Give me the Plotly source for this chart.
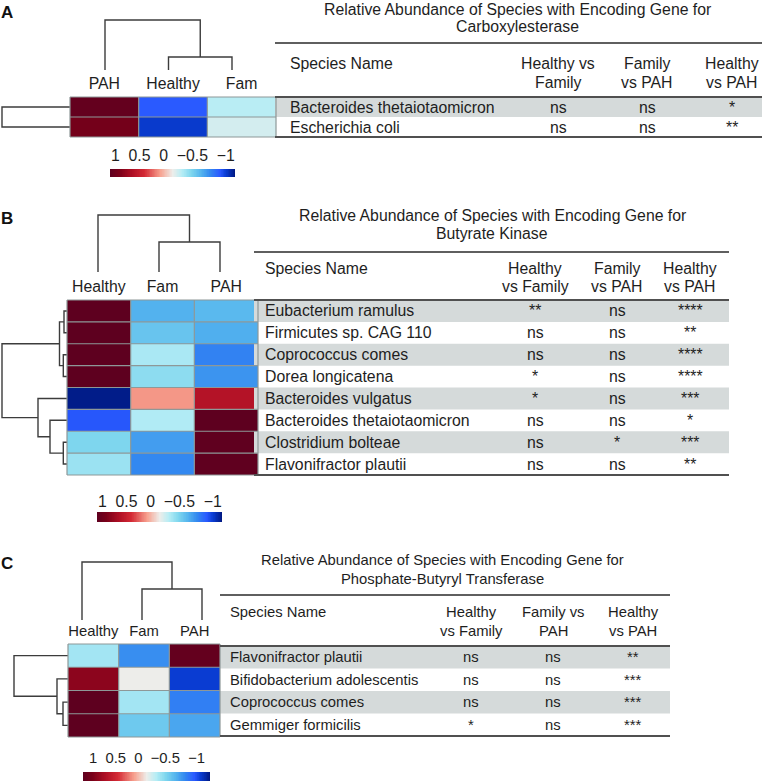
import numpy as np
import plotly.graph_objects as go

W, H = 766, 782
FONT = "Liberation Sans, Arial, Helvetica, sans-serif"
TXT = "#1e1e1e"

# ------------------------------------------------------------------ data
# Panel A : Carboxylesterase
A_cols = ["PAH", "Healthy", "Fam"]
A_species = ["Bacteroides thetaiotaomicron", "Escherichia coli"]
A_z = [[0.97, -0.75, -0.14],
       [0.88, -0.86, -0.07]]
A_hvf = ["ns", "ns"]
A_fvp = ["ns", "ns"]
A_hvp = ["*", "**"]
A_headers = ["Healthy vs<br>Family", "Family<br>vs PAH", "Healthy<br>vs PAH"]
A_title = "Relative Abundance of Species with Encoding Gene for<br>Carboxylesterase"
A_col_link = [(1, 2, 13), (0, 3, 50)]
A_row_link = [(0, 1, 68)]

# Panel B : Butyrate Kinase
B_cols = ["Healthy", "Fam", "PAH"]
B_species = ["Eubacterium ramulus", "Firmicutes sp. CAG 110", "Coprococcus comes",
             "Dorea longicatena", "Bacteroides vulgatus", "Bacteroides thetaiotaomicron",
             "Clostridium bolteae", "Flavonifractor plautii"]
B_z = [[1.00, -0.46, -0.43],
       [1.00, -0.38, -0.47],
       [1.00, -0.18, -0.62],
       [1.00, -0.26, -0.56],
       [-0.98, 0.22, 0.62],
       [-0.76, -0.16, 1.00],
       [-0.30, -0.53, 0.99],
       [-0.22, -0.60, 0.99]]
B_hvf = ["**", "ns", "ns", "*", "*", "ns", "ns", "ns"]
B_fvp = ["ns", "ns", "ns", "ns", "ns", "ns", "*", "ns"]
B_hvp = ["****", "**", "****", "****", "***", "*", "***", "**"]
B_headers = ["Healthy<br>vs Family", "Family<br>vs PAH", "Healthy<br>vs PAH"]
B_title = "Relative Abundance of Species with Encoding Gene for<br>Butyrate Kinase"
B_col_link = [(1, 2, 30), (0, 3, 57)]
B_row_link = [(0, 1, 3), (2, 3, 3.7), (8, 9, 7.5), (6, 7, 3.7),
              (5, 11, 17), (4, 12, 29), (10, 13, 65)]

# Panel C : Phosphate-Butyryl Transferase
C_cols = ["Healthy", "Fam", "PAH"]
C_species = ["Flavonifractor plautii", "Bifidobacterium adolescentis",
             "Coprococcus comes", "Gemmiger formicilis"]
C_z = [[-0.20, -0.58, 0.97],
       [0.78, 0.00, -0.85],
       [1.00, -0.20, -0.63],
       [1.00, -0.36, -0.50]]
C_hvf = ["ns", "ns", "ns", "*"]
C_fvp = ["ns", "ns", "ns", "ns"]
C_hvp = ["**", "***", "***", "***"]
C_headers = ["Healthy<br>vs Family", "Family vs<br>PAH", "Healthy<br>vs PAH"]
C_title = "Relative Abundance of Species with Encoding Gene for<br>Phosphate-Butyryl Transferase"
C_col_link = [(1, 2, 31), (0, 3, 58)]
C_row_link = [(2, 3, 5), (1, 4, 11), (0, 5, 54)]

CBAR_TICKS = "1  0.5  0  \u22120.5  \u22121"
CBAR_X = np.linspace(1, -1, 201)

# colour scale (value -> colour), value range -1..1
CS_VALS = [-1.0, -0.85, -0.75, -0.6, -0.45, -0.3, -0.15, 0.0, 0.2, 0.45, 0.65, 0.85, 1.0]
CS_COLS = ["#00177E", "#0A3CD2", "#2A5AFF", "#3388F0", "#55B5EE", "#7ED6EE", "#B5EDF5",
           "#EDEDEA", "#F7A08E", "#D42A35", "#AE0F24", "#7A0019", "#5E001F"]
COLORSCALE = [[(v + 1) / 2, c] for v, c in zip(CS_VALS, CS_COLS)]

# ------------------------------------------------------------------ layout constants (px)
LAY = {
    "A": dict(hm_x=(70, 276), hm_y=(97, 137), cd_leaf=(105, 232), cd_y=(70, 20),
              rd_x=(70, 2), cb_x=(110, 235), cb_y=(169, 177), cb_label_y=155,
              tb_x=(275, 762), tb_top=43, tb_hdr=97, tb_bot=137,
              name_x=288, col_x=(558, 647, 732), hdr_y=(63, 82),
              title_x=517, title_y=(9, 27), letter=(7, 12), font=15.8),
    "B": dict(hm_x=(67, 258), hm_y=(300, 475), cd_leaf=(98, 220), cd_y=(272, 215),
              rd_x=(67, 2), cb_x=(97, 222), cb_y=(512, 522), cb_label_y=502,
              tb_x=(254, 729), tb_top=252, tb_hdr=300, tb_bot=475,
              name_x=263, col_x=(535, 617, 690), hdr_y=(268, 287),
              title_x=492, title_y=(216, 234), letter=(7, 218), font=15.8),
    "C": dict(hm_x=(68, 220), hm_y=(644, 737), cd_leaf=(82, 202), cd_y=(620, 562),
              rd_x=(68, 14), cb_x=(83, 210), cb_y=(772, 781), cb_label_y=758,
              tb_x=(220, 670), tb_top=595, tb_hdr=646, tb_bot=736,
              name_x=228, col_x=(471, 553, 633), hdr_y=(612, 631),
              title_x=443, title_y=(560, 579), letter=(7, 563), font=14.8),
}

PAD = 4


def lin_x(d0, d1, p0, p1, pad=PAD):
    s = (d1 - d0) / (p1 - p0)
    lo_p = max(0, min(p0, p1) - pad)
    hi_p = min(W, max(p0, p1) + pad)
    r_lo = d0 + (lo_p - p0) * s
    r_hi = d0 + (hi_p - p0) * s
    return [lo_p / W, hi_p / W], [r_lo, r_hi]


def lin_y(d0, d1, p0, p1, pad=PAD):
    # pixel y grows downwards
    s = (d1 - d0) / (p1 - p0)
    top_p = max(0, min(p0, p1) - pad)
    bot_p = min(H, max(p0, p1) + pad)
    r_top = d0 + (top_p - p0) * s
    r_bot = d0 + (bot_p - p0) * s
    return [1 - bot_p / H, 1 - top_p / H], [r_bot, r_top]


def px(x, y):
    return x / W, 1 - y / H


fig = go.Figure()
axes = {}
shapes = []
annotations = []
counter = [0]


def new_axes(xdom, xr, ydom, yr, xextra=None):
    counter[0] += 1
    i = counter[0]
    sfx = "" if i == 1 else str(i)
    xa = dict(domain=xdom, range=xr, visible=False, anchor="y" + sfx,
              showgrid=False, zeroline=False, fixedrange=True)
    if xextra:
        xa.update(xextra)
    ya = dict(domain=ydom, range=yr, visible=False, anchor="x" + sfx,
              showgrid=False, zeroline=False, fixedrange=True)
    axes["xaxis" + sfx] = xa
    axes["yaxis" + sfx] = ya
    return "x" + sfx, "y" + sfx


def dendro_lines(n, links):
    pos = list(range(n))
    hts = [0.0] * n
    a_s, h_s = [], []
    for a, b, h in links:
        pa, pb = pos[a], pos[b]
        a_s += [pa, pa, pb, pb, None]
        h_s += [hts[a], h, h, hts[b], None]
        pos.append((pa + pb) / 2)
        hts.append(h)
    return a_s, h_s, max(hts)


def panel(key, cols, species, z, stats, headers, title, col_link, row_link):
    L = LAY[key]
    n = len(species)
    nc = len(cols)
    fs = L["font"]

    # ---- heatmap
    xdom, xr = lin_x(-0.5, nc - 0.5, *L["hm_x"])
    ydom, yr = lin_y(-0.5, n - 0.5, *L["hm_y"])
    hx, hy = new_axes(xdom, xr, ydom, yr, xextra=dict(
        visible=True, side="top", tickmode="array", tickvals=list(range(nc)),
        ticktext=cols, ticks="", showline=False,
        tickfont=dict(family=FONT, size=fs, color=TXT), ticklabelstandoff=0))
    fig.add_trace(go.Heatmap(z=z, x=list(range(nc)), y=list(range(n)),
                             colorscale=COLORSCALE, zmin=-1, zmax=1, showscale=False,
                             xaxis=hx, yaxis=hy, hoverinfo="skip"))
    gcol = "#8E9898"
    for k in range(nc + 1):
        shapes.append(dict(type="line", xref=hx, yref=hy, x0=k - 0.5, x1=k - 0.5,
                           y0=-0.5, y1=n - 0.5, line=dict(color=gcol, width=1.2), layer="above"))
    for k in range(n + 1):
        shapes.append(dict(type="line", xref=hx, yref=hy, x0=-0.5, x1=nc - 0.5,
                           y0=k - 0.5, y1=k - 0.5, line=dict(color=gcol, width=1.2), layer="above"))

    # ---- column dendrogram
    cx, ch, chmax = dendro_lines(nc, col_link)
    xdom, xr = lin_x(0, nc - 1, *L["cd_leaf"])
    ydom, yr = lin_y(0, chmax, *L["cd_y"])
    dx, dy = new_axes(xdom, xr, ydom, yr)
    fig.add_trace(go.Scatter(x=cx, y=ch, mode="lines", xaxis=dx, yaxis=dy,
                             line=dict(color="#3c3c3c", width=1.4), hoverinfo="skip",
                             showlegend=False))

    # ---- row dendrogram
    ry, rh, rhmax = dendro_lines(n, row_link)
    xdom, xr = lin_x(0, rhmax, *L["rd_x"])
    ydom, yr = lin_y(-0.5, n - 0.5, *L["hm_y"])
    rx_, ry_ = new_axes(xdom, xr, ydom, yr)
    fig.add_trace(go.Scatter(x=rh, y=ry, mode="lines", xaxis=rx_, yaxis=ry_,
                             line=dict(color="#3c3c3c", width=1.4), hoverinfo="skip",
                             showlegend=False))

    # ---- colour bar
    xdom, xr = lin_x(1, -1, *L["cb_x"], pad=0)
    ydom, yr = lin_y(0.5, -0.5, *L["cb_y"], pad=0)
    bx, by = new_axes(xdom, xr, ydom, yr)
    fig.add_trace(go.Heatmap(z=[list(CBAR_X)], x=list(CBAR_X), y=[0],
                             colorscale=COLORSCALE, zmin=-1, zmax=1, showscale=False,
                             xaxis=bx, yaxis=by, hoverinfo="skip"))
    ax, ay = px((L["cb_x"][0] + L["cb_x"][1]) / 2, L["cb_label_y"])
    annotations.append(dict(text=CBAR_TICKS, x=ax, y=ay, xref="paper", yref="paper",
                            showarrow=False, xanchor="center", yanchor="middle",
                            font=dict(family=FONT, size=fs, color=TXT)))

    # ---- table
    tl, tr = L["tb_x"]
    row_h = (L["tb_bot"] - L["tb_hdr"]) / n
    hdr = (L["tb_hdr"] - L["tb_top"]) / row_h
    xdom, xr = lin_x(tl, tr, tl, tr)
    ydom, yr = lin_y(-0.5 - hdr, n - 0.5, L["tb_top"], L["tb_bot"], pad=PAD)
    tx, ty = new_axes(xdom, xr, ydom, yr)
    for i in range(n):
        if i % 2 == 0:
            shapes.append(dict(type="rect", xref=tx, yref=ty, x0=tl, x1=tr,
                               y0=i - 0.5, y1=i + 0.5, fillcolor="#D5DADA",
                               line=dict(width=0), layer="below"))
    shapes.append(dict(type="line", xref=tx, yref=ty, x0=tl, x1=tr, y0=-0.5 - hdr,
                       y1=-0.5 - hdr, line=dict(color="#2a2a2a", width=1.5)))
    for yy in (-0.5, n - 0.5):
        shapes.append(dict(type="line", xref=tx, yref=ty, x0=tl, x1=tr, y0=yy, y1=yy,
                           line=dict(color="#505050", width=2.2)))
    f = dict(family=FONT, size=fs, color=TXT)
    for i, name in enumerate(species):
        annotations.append(dict(text=name, x=L["name_x"], y=i, xref=tx, yref=ty,
                                showarrow=False, xanchor="left", yanchor="middle", font=f))
        for j, col in enumerate(stats):
            annotations.append(dict(text=col[i], x=L["col_x"][j], y=i, xref=tx, yref=ty,
                                    showarrow=False, xanchor="center", yanchor="middle",
                                    font=f))
    # header
    hx0, hy0 = px(L["name_x"], L["hdr_y"][0])
    annotations.append(dict(text="Species Name", x=hx0, y=hy0, xref="paper", yref="paper",
                            showarrow=False, xanchor="left", yanchor="middle", font=f))
    for j, htxt in enumerate(headers):
        for k, line in enumerate(htxt.split("<br>")):
            xx, yy = px(L["col_x"][j], L["hdr_y"][k])
            annotations.append(dict(text=line, x=xx, y=yy, xref="paper", yref="paper",
                                    showarrow=False, xanchor="center", yanchor="middle",
                                    font=f))
    for k, line in enumerate(title.split("<br>")):
        xx, yy = px(L["title_x"], L["title_y"][k])
        annotations.append(dict(text=line, x=xx, y=yy, xref="paper", yref="paper",
                                showarrow=False, xanchor="center", yanchor="middle",
                                font=f))
    # panel letter
    lx, ly = px(*L["letter"])
    annotations.append(dict(text="<b>%s</b>" % key, x=lx, y=ly, xref="paper", yref="paper",
                            showarrow=False, xanchor="center", yanchor="middle",
                            font=dict(family=FONT, size=17, color="#111")))


panel("A", A_cols, A_species, A_z, [A_hvf, A_fvp, A_hvp], A_headers, A_title,
      A_col_link, A_row_link)
panel("B", B_cols, B_species, B_z, [B_hvf, B_fvp, B_hvp], B_headers, B_title,
      B_col_link, B_row_link)
panel("C", C_cols, C_species, C_z, [C_hvf, C_fvp, C_hvp], C_headers, C_title,
      C_col_link, C_row_link)

fig.update_layout(width=W, height=H, margin=dict(l=0, r=0, t=0, b=0),
                  paper_bgcolor="white", plot_bgcolor="rgba(0,0,0,0)",
                  showlegend=False, shapes=shapes, annotations=annotations, **axes)
fig.write_html("out.html",
               config={"displayModeBar": False, "staticPlot": True},
               post_script="document.body.style.margin='0';"
                           "document.body.style.overflow='hidden';")
